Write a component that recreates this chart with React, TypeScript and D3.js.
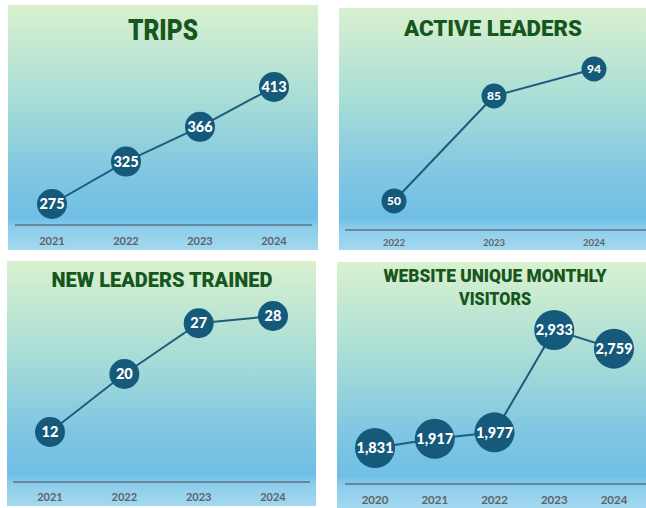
import React from "react";
import * as d3 from "d3";

const tripsYears = ["2021", "2022", "2023", "2024"];
const tripsValues = [275, 325, 366, 413];

const activeYears = ["2022", "2023", "2024"];
const activeValues = [50, 85, 94];

const trainedYears = ["2021", "2022", "2023", "2024"];
const trainedValues = [12, 20, 27, 28];

const visitorYears = ["2020", "2021", "2022", "2023", "2024"];
const visitorValues = [1831, 1917, 1977, 2933, 2759];

const FONT = "Lato, 'Open Sans', 'DejaVu Sans', sans-serif";
const TITLE_FONT = "Roboto, 'Liberation Sans', sans-serif";

type PanelCfg = {
  title: string[];
  titleSize: number;
  titleY: number[];
  titleLen: number[];
  titleX: number;
  years: string[];
  values: number[];
  x: number;
  y: number;
  w: number;
  h: number;
  xRange: [number, number];
  yRange: [number, number];
  axisY: number;
  axisX: [number, number];
  tickY: number;
  tickSize: number;
  r: number;
  labelSize: number;
};

const panels: PanelCfg[] = [
  {
    title: ["TRIPS"], titleSize: 29, titleY: [35], titleLen: [70], titleX: 155,
    years: tripsYears, values: tripsValues,
    x: 8, y: 5, w: 310, h: 245,
    xRange: [44, 266], yRange: [199, 82],
    axisY: 220, axisX: [7, 304], tickY: 240, tickSize: 11, r: 15, labelSize: 14.5,
  },
  {
    title: ["ACTIVE  LEADERS"], titleSize: 22, titleY: [28], titleLen: [178], titleX: 154,
    years: activeYears, values: activeValues,
    x: 339, y: 8, w: 307, h: 242,
    xRange: [55, 255], yRange: [193, 61],
    axisY: 222, axisX: [6, 307], tickY: 238, tickSize: 9.5, r: 12.5, labelSize: 12,
  },
  {
    title: ["NEW  LEADERS  TRAINED"], titleSize: 21, titleY: [26], titleLen: [221], titleX: 155,
    years: trainedYears, values: trainedValues,
    x: 7, y: 261, w: 309, h: 245,
    xRange: [43, 266], yRange: [171, 55],
    axisY: 221, axisX: [6, 303], tickY: 240, tickSize: 11, r: 15, labelSize: 14.5,
  },
  {
    title: ["WEBSITE UNIQUE MONTHLY", "VISITORS"], titleSize: 18.5, titleY: [20, 43], titleLen: [223, 72], titleX: 158,
    years: visitorYears, values: visitorValues,
    x: 337, y: 262, w: 309, h: 246,
    xRange: [38, 277], yRange: [186, 68],
    axisY: 222, axisX: [8, 309], tickY: 242, tickSize: 11.5, r: 20, labelSize: 14.5,
  },
];

function Panel({ p }: { p: PanelCfg }) {
  const xs = d3.scalePoint<string>().domain(p.years).range(p.xRange).padding(0);
  const ext = d3.extent(p.values) as [number, number];
  const ys = d3.scaleLinear().domain(ext).range(p.yRange);
  const line = d3
    .line<number>()
    .x((_, i) => xs(p.years[i]) as number)
    .y((v) => ys(v));
  const fmt = d3.format(",");
  return (
    <g transform={`translate(${p.x},${p.y})`}>
      <rect width={p.w} height={p.h} fill="url(#bg)" />
      {p.title.map((t, i) => (
        <text
          key={i}
          x={p.titleX}
          y={p.titleY[i]}
          textAnchor="middle"
          fontFamily={TITLE_FONT}
          fontWeight={900}
          fontSize={p.titleSize}
          fill="#17561d"
          textLength={p.titleLen[i]}
          lengthAdjust="spacingAndGlyphs"
        >
          {t}
        </text>
      ))}
      <line x1={p.axisX[0]} x2={p.axisX[1]} y1={p.axisY} y2={p.axisY} stroke="#5d7282" strokeWidth={1.5} />
      {p.years.map((yr) => (
        <text
          key={yr}
          x={xs(yr)}
          y={p.tickY}
          textAnchor="middle"
          fontFamily={FONT}
          fontWeight={700}
          fontSize={p.tickSize}
          fill="#5e6366"
        >
          {yr}
        </text>
      ))}
      <path d={line(p.values) || ""} fill="none" stroke="#1c5d7e" strokeWidth={2} />
      {p.values.map((v, i) => (
        <g key={i} transform={`translate(${xs(p.years[i])},${ys(v)})`}>
          <circle r={p.r} fill="#155a7b" />
          <text
            textAnchor="middle"
            dy="0.36em"
            fontFamily={FONT}
            fontWeight={900}
            fontSize={p.labelSize}
            fill="#ffffff"
          >
            {fmt(v)}
          </text>
        </g>
      ))}
    </g>
  );
}

export default function App() {
  return (
    <svg
      width={646}
      height={508}
      style={{ position: "absolute", left: 0, top: 0, background: "#ffffff" }}
    >
      <defs>
        <linearGradient id="bg" x1="0" y1="0" x2="0" y2="1">
          <stop offset="0" stopColor="#d9f1cf" />
          <stop offset="0.4" stopColor="#a6dcd7" />
          <stop offset="0.7" stopColor="#7ec6e3" />
          <stop offset="0.87" stopColor="#70bfe6" />
          <stop offset="0.91" stopColor="#8ccdeb" />
          <stop offset="1" stopColor="#a3d8ef" />
        </linearGradient>
      </defs>
      <rect width={646} height={508} fill="#ffffff" />
      {panels.map((p, i) => (
        <Panel key={i} p={p} />
      ))}
    </svg>
  );
}
